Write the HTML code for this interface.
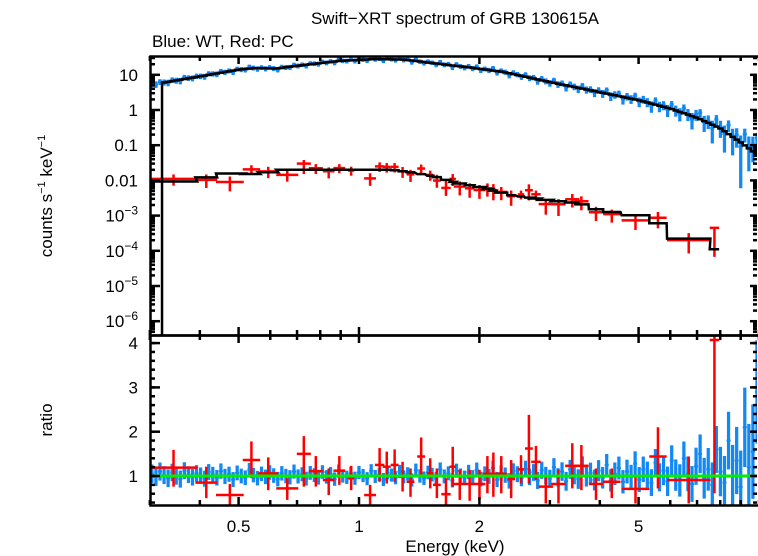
<!DOCTYPE html>
<html><head><meta charset="utf-8"><style>
html,body{margin:0;padding:0;background:#fff;}
svg{display:block;font-family:"Liberation Sans",sans-serif;}
</style></head><body>
<svg id="chart" width="758" height="556" viewBox="0 0 758 556" xmlns="http://www.w3.org/2000/svg">
<defs>
<clipPath id="clipTop"><rect x="151" y="57" width="606" height="278"/></clipPath>
<clipPath id="clipBot"><rect x="151" y="336" width="606" height="169"/></clipPath>
</defs>
<text x="455" y="24" font-size="17" text-anchor="middle">Swift−XRT spectrum of GRB 130615A</text>
<text x="152" y="47" font-size="17">Blue: WT, Red: PC</text>
<text transform="translate(52,196) rotate(-90)" font-size="17" text-anchor="middle">counts s<tspan font-size="11" dy="-7">−1</tspan><tspan dy="7"> keV</tspan><tspan font-size="11" dy="-7">−1</tspan></text>
<text transform="translate(52,420) rotate(-90)" font-size="17" text-anchor="middle">ratio</text>
<text x="455" y="552" font-size="17" text-anchor="middle">Energy (keV)</text>
<g id="topData" clip-path="url(#clipTop)"></g>
<g id="botData" clip-path="url(#clipBot)"></g>
<g id="axes"></g>
</svg>
<script>
// ---- Blue (WT) model knots ----
const blueModelE = [0.3,0.33,0.4,0.5,0.55,0.62,0.7,0.9,1.1,1.3,1.5,1.9,2.3,3,4,5,6,7,8,9,10];
const blueModelV = [5.1,6.2,9,14,15.6,15,18,25,28,27,22,16,12,6.2,3.2,1.9,1.1,0.6,0.3,0.12,0.05];
// ---- Blue (WT) ratio values, 150 log-spaced bins 0.3–10 keV ----
const blueRatio = [1.05,0.98,1.10,1.02,0.95,1.08,1.00,0.93,1.12,1.03,
0.97,1.06,1.01,0.94,1.09,1.03,0.96,1.11,0.99,1.04,
0.92,1.07,1.00,0.96,1.13,1.02,0.95,1.05,0.98,1.08,
1.01,0.93,1.06,1.00,0.97,1.10,0.99,1.04,0.94,1.07,
1.02,0.96,1.09,0.98,1.05,0.93,1.11,1.00,0.97,1.06,
0.95,1.08,1.01,0.94,1.12,0.99,1.03,0.92,1.07,1.02,
0.96,1.10,0.98,1.05,0.91,1.13,1.00,0.95,1.08,1.03,
0.94,1.15,0.99,1.06,0.90,1.12,1.01,0.96,1.09,0.97,
1.14,0.93,1.05,0.99,1.18,0.92,1.07,1.02,0.89,1.11,
1.04,0.95,1.16,0.98,1.08,0.90,1.13,1.01,0.94,1.20,
0.97,1.10,0.88,1.15,1.03,0.93,1.22,0.99,1.07,0.91,
1.12,0.96,1.25,0.90,1.05,1.18,0.87,1.10,0.98,1.28,
0.92,1.15,1.03,0.85,1.30,0.97,1.12,0.88,1.35,1.02,
0.90,1.40,1.05,0.82,1.22,1.50,0.95,1.15,0.80,1.60,
1.10,0.85,1.80,1.00,1.35,0.75,2.10,1.20,1.55,2.90];
// ---- Red (PC) model knots ----
const redModelE = [0.3,0.39,0.42,0.48,0.55,0.65,0.8,1.2,1.35,1.55,1.75,2.0,2.4,3,3.5,4.0,5,5.6,6.5,7.9];
const redModelV = [0.0093,0.0093,0.0128,0.016,0.015,0.02,0.02,0.02,0.017,0.0128,0.0085,0.0065,0.0038,0.0027,0.0023,0.0014,0.0010,0.0006,0.00025,0.0001];
// ---- Red (PC) bins ----
const redElo = [0.300,0.390,0.439,0.512,0.560,0.621,0.699,0.749,0.812,0.863,0.939,1.030,1.096,1.147,1.200,1.256,1.315,1.398,1.480,1.531,1.606,1.684,1.726,1.840,1.934,2.038,2.128,2.192,2.347,2.495,2.600,2.695,2.813,3.026,3.276,3.452,3.755,4.076,4.534,5.317,5.89,7.53];
const redEhi = [0.394,0.442,0.515,0.566,0.628,0.705,0.758,0.812,0.869,0.924,0.973,1.103,1.157,1.200,1.256,1.315,1.376,1.463,1.534,1.601,1.695,1.747,1.848,1.943,2.070,2.152,2.207,2.347,2.456,2.588,2.720,2.846,3.054,3.285,3.557,3.748,4.077,4.505,5.321,5.876,7.56,7.95];
const redRatio = [1.19,0.85,0.57,1.36,1.06,0.72,1.50,1.11,0.91,1.12,0.95,0.57,1.25,1.21,1.25,0.99,0.87,1.44,1.06,0.80,0.59,1.21,0.82,0.82,0.82,1.05,1.05,1.05,0.93,1.15,1.62,1.32,0.76,0.82,1.23,1.23,0.82,0.87,0.71,1.44,0.91,4.07];
const redRatioHi = [1.59,1.21,0.82,1.78,1.42,0.95,1.90,1.45,1.17,1.45,1.23,0.80,1.63,1.55,1.60,1.32,1.17,1.87,1.40,1.17,0.95,1.66,1.14,1.14,1.14,1.45,1.53,1.45,1.36,1.47,2.38,1.68,1.02,1.15,1.74,1.70,1.17,1.17,1.02,2.10,1.44,4.2];
const redRatioLo = [0.76,0.50,0.31,0.95,0.68,0.46,0.76,0.76,0.57,0.80,0.68,0.35,0.87,0.83,0.87,0.65,0.53,0.99,0.72,0.50,0.35,0.76,0.46,0.44,0.46,0.61,0.53,0.61,0.50,0.83,0.83,0.91,0.38,0.38,0.72,0.68,0.46,0.50,0.38,0.72,0.38,0.61];
const xMajorTicks = [0.5,1,2,5];
const xMinorTicks = [0.3,0.4,0.6,0.7,0.8,0.9,3,4,6,7,8,9,10];
const yTopLabels = ["10","1","0.1","0.01","10|−3","10|−4","10|−5","10|−6"];
const yTopDecades = [1,0,-1,-2,-3,-4,-5,-6];
const yBotMajor = [1,2,3,4];

const NS="http://www.w3.org/2000/svg";
const X = e => 359 + 400*Math.log10(e);
const YT = v => 110 - 35.2*Math.log10(v);
const YR = r => 476 - 44.3*(r-1);
function interp(E, V, e){
  const le=Math.log10(e);
  if(e<=E[0]) return V[0];
  for(let i=1;i<E.length;i++){ if(e<=E[i]){ const a=Math.log10(E[i-1]),b=Math.log10(E[i]); const t=(le-a)/(b-a); return Math.pow(10,Math.log10(V[i-1])+t*(Math.log10(V[i])-Math.log10(V[i-1]))); } }
  return V[V.length-1];
}
function line(g,x1,y1,x2,y2,color,w){
  const l=document.createElementNS(NS,"line");
  l.setAttribute("x1",x1);l.setAttribute("y1",y1);l.setAttribute("x2",x2);l.setAttribute("y2",y2);
  l.setAttribute("stroke",color);l.setAttribute("stroke-width",w);
  g.appendChild(l);return l;
}
function poly(g,pts,color,w){
  const p=document.createElementNS(NS,"polyline");
  p.setAttribute("points",pts.map(q=>q.join(",")).join(" "));
  p.setAttribute("fill","none");p.setAttribute("stroke",color);p.setAttribute("stroke-width",w);
  g.appendChild(p);return p;
}
const topG=document.getElementById("topData"), botG=document.getElementById("botData"), ax=document.getElementById("axes");
const BLUE="#1288f5", RED="#ff0000";

// Blue bins
const N=blueRatio.length, lo=Math.log10(0.3), hi=Math.log10(10);
const bEdges=[]; for(let i=0;i<=N;i++) bEdges.push(Math.pow(10,lo+(hi-lo)*i/N));
const blueModelPts=[];
for(let i=0;i<N;i++){
  const e1=bEdges[i], e2=bEdges[i+1], ec=Math.sqrt(e1*e2);
  const m=interp(blueModelE,blueModelV,ec), r=blueRatio[i];
  const err=0.1+0.25/Math.sqrt(m);
  const bw=X(e2)-X(e1);
  const gt=document.createElementNS(NS,"g");
  
  
  line(gt,X(e1),YT(m*r),X(e2),YT(m*r),BLUE,2.5);
  line(gt,X(ec),YT(m*(r+err)),X(ec),YT(m*Math.max(r-err,0.05)),BLUE,bw*0.8);
  topG.appendChild(gt);
  const gb=document.createElementNS(NS,"g");
  
  
  line(gb,X(e1),YR(r),X(e2),YR(r),BLUE,2);
  line(gb,X(ec),YR(r+err),X(ec),YR(r-err),BLUE,bw*0.8);
  botG.appendChild(gb);
  if(ec>0.32){ blueModelPts.push([X(e1),YT(m)]); blueModelPts.push([X(e2),YT(m)]); }
}
// Red bins
const redModelPts=[];
for(let i=0;i<redElo.length;i++){
  const e1=redElo[i], e2=redEhi[i], ec=Math.sqrt(e1*e2);
  const m=interp(redModelE,redModelV,ec), r=redRatio[i];
  const gt=document.createElementNS(NS,"g");
  
  
  line(gt,X(e1),YT(m*r),X(e2),YT(m*r),RED,2.5);
  line(gt,X(ec),YT(m*redRatioHi[i]),X(ec),YT(m*redRatioLo[i]),RED,2.5);
  topG.appendChild(gt);
  const gb=document.createElementNS(NS,"g");
  
  
  line(gb,X(e1),YR(r),X(e2),YR(r),RED,2.5);
  line(gb,X(ec),YR(redRatioHi[i]),X(ec),YR(redRatioLo[i]),RED,2.5);
  botG.appendChild(gb);
  redModelPts.push([X(e1),YT(m)]); redModelPts.push([X(e2),YT(m)]);
}
// Models
const bm=poly(topG,[[blueModelPts[0][0],335]].concat(blueModelPts),"#000",2.5);


const rm=poly(topG,redModelPts,"#000",2.5);


// unity line
const ul=line(botG,151,YR(1),757,YR(1),"#00ee00",3);



// Frames
function rect(x,y,w,h,name){
  const r=document.createElementNS(NS,"rect");
  r.setAttribute("x",x);r.setAttribute("y",y);r.setAttribute("width",w);r.setAttribute("height",h);
  r.setAttribute("fill","none");r.setAttribute("stroke","#000");r.setAttribute("stroke-width",2.5);
  
  
  ax.appendChild(r);
}
rect(150.5,56.5,610,279,"top-panel-frame");
rect(150.5,335.5,610,170,"ratio-panel-frame");
function txt(x,y,s,anchor,name){
  const t=document.createElementNS(NS,"text");
  t.setAttribute("x",x);t.setAttribute("y",y);t.setAttribute("font-size","17");t.setAttribute("text-anchor",anchor);
  
  
  const parts=s.split("|");
  t.appendChild(document.createTextNode(parts[0]));
  if(parts[1]){ const sp=document.createElementNS(NS,"tspan"); sp.setAttribute("font-size","12"); sp.setAttribute("dy","-7"); sp.textContent=parts[1]; t.appendChild(sp); }
  ax.appendChild(t);return t;
}
xMajorTicks.forEach(e=>{
  const x=X(e);
  [[56,64],[335,327],[335,343],[505,497]].forEach(([a,b])=>line(ax,x,a,x,b,"#000",2.5));
  txt(x,532,String(e),"middle","x-tick-label");
});
xMinorTicks.forEach(e=>{
  const x=X(e);
  [[56,61],[335,330],[335,340],[505,500]].forEach(([a,b])=>line(ax,x,a,x,b,"#000",2.5));
});
yTopDecades.forEach((d,i)=>{
  const y=YT(Math.pow(10,d));
  line(ax,150,y,160,y,"#000",2.5);
  line(ax,757,y,750,y,"#000",2.5);
  txt(138,y+6,yTopLabels[i],"end","y-tick-label");
});
for(let d=-7; d<=1; d++){ for(let k=2;k<=9;k++){ const y=YT(k*Math.pow(10,d)); if(y>57&&y<335){ line(ax,150,y,155,y,"#000",2.5); line(ax,757,y,753,y,"#000",2.5);} } }
for(let r=0.4;r<=4.15;r+=0.2){ const y=YR(r); line(ax,150,y,155,y,"#000",2.5); line(ax,757,y,753,y,"#000",2.5); }
yBotMajor.forEach(r=>{ const y=YR(r); line(ax,150,y,160,y,"#000",2.5); line(ax,757,y,750,y,"#000",2.5); txt(138,y+6,String(r),"end","ratio-tick-label"); });
</script>
</body></html>
